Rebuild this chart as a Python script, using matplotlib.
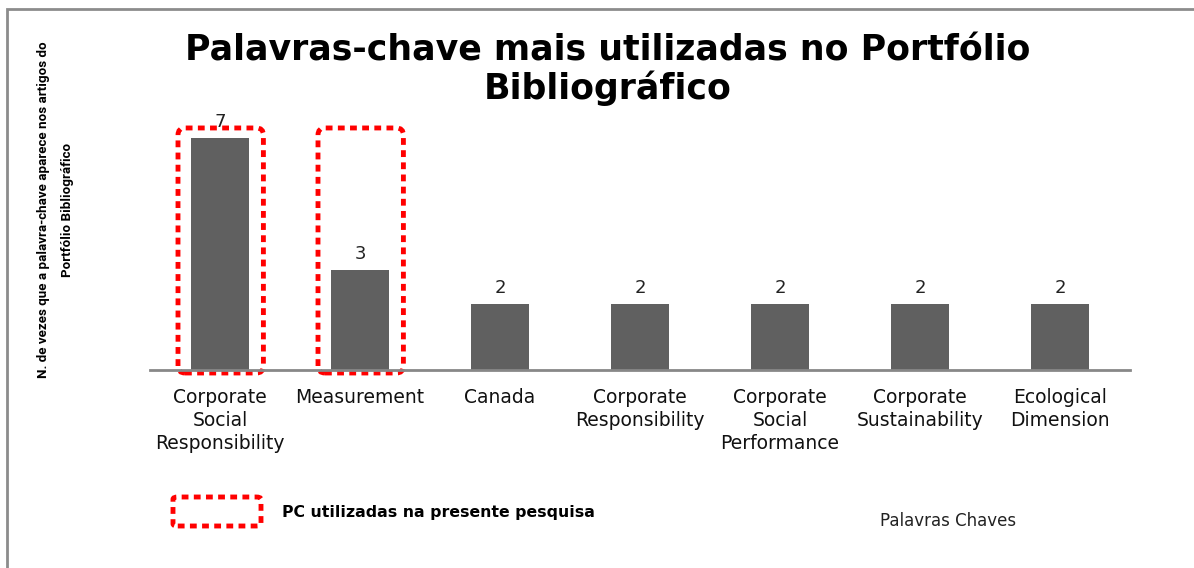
import matplotlib.pyplot as plt
from matplotlib.patches import FancyBboxPatch, Rectangle

# data
categories = ['Corporate\nSocial\nResponsibility', 'Measurement', 'Canada',
              'Corporate\nResponsibility', 'Corporate\nSocial\nPerformance',
              'Corporate\nSustainability', 'Ecological\nDimension']
counts = [7, 3, 2, 2, 2, 2, 2]
highlighted = [0, 1]  # keywords used in this research

W, H = 1194, 568
fig = plt.figure(figsize=(W / 100, H / 100), dpi=100)

# grey frame around the chart area (runs off the right/bottom edge)
fig.patches.append(Rectangle((7 / W, -0.05), 1.2, 1 - 9 / H + 0.05, transform=fig.transFigure,
                             fill=False, edgecolor='#8c8c8c', linewidth=2))

ax = fig.add_axes([150 / W, 1 - 370 / H, 980 / W, 260 / H])
x = list(range(len(categories)))
bars = ax.bar(x, counts, width=0.41, color='#606060')
ax.bar_label(bars, labels=[str(c) for c in counts], padding=5, fontsize=13,
             color='#222222', family='DejaVu Sans')

ax.set_xlim(-0.5, len(categories) - 0.5)
ax.set_ylim(0, 260 / 33.2)
ax.set_xticks(x)
ax.set_xticklabels(categories, fontsize=13.5, family='DejaVu Sans', color='#111111',
                   linespacing=1.25)
ax.tick_params(axis='x', length=0, pad=13)
ax.set_yticks([])
for s in ['top', 'right', 'left']:
    ax.spines[s].set_visible(False)
ax.spines['bottom'].set_color('#888888')
ax.spines['bottom'].set_linewidth(2)

# dotted red boxes around the highlighted keywords
for i in highlighted:
    box = FancyBboxPatch((i - 0.3, -0.09), 0.61, 7.38,
                         boxstyle='round,pad=0,rounding_size=0.05', mutation_aspect=4.2,
                         fill=False, edgecolor='#ff0000', linewidth=3.5,
                         linestyle=(0, (1.4, 1.1)), clip_on=False)
    ax.add_patch(box)

# title
fig.text(608 / W, 1 - 70 / H, 'Palavras-chave mais utilizadas no Portfólio\nBibliográfico',
         ha='center', va='center', fontsize=25, fontweight='bold', family='DejaVu Sans',
         linespacing=1.1)

# y label
fig.text(56 / W, 1 - 210 / H,
         'N. de vezes que a palavra-chave aparece nos artigos do\nPortfólio Bibliográfico',
         rotation=90, ha='center', va='center', fontsize=9.6, fontweight='bold',
         family='Roboto', linespacing=2.1)

# legend-like box and text
fig.patches.append(FancyBboxPatch((173 / W, 1 - 526 / H), 88 / W, 29 / H,
                                  boxstyle='round,pad=0,rounding_size=0.004',
                                  transform=fig.transFigure, fill=False,
                                  edgecolor='#ff0000', linewidth=3.5,
                                  linestyle=(0, (1.4, 1.1))))
fig.text(282 / W, 1 - 513 / H, 'PC utilizadas na presente pesquisa', ha='left', va='center',
         fontsize=11.3, fontweight='bold', family='DejaVu Sans')
fig.text(948 / W, 1 - 521 / H, 'Palavras Chaves', ha='center', va='center',
         fontsize=12, family='DejaVu Sans', color='#222222')

fig.savefig('out.png', dpi=100)
